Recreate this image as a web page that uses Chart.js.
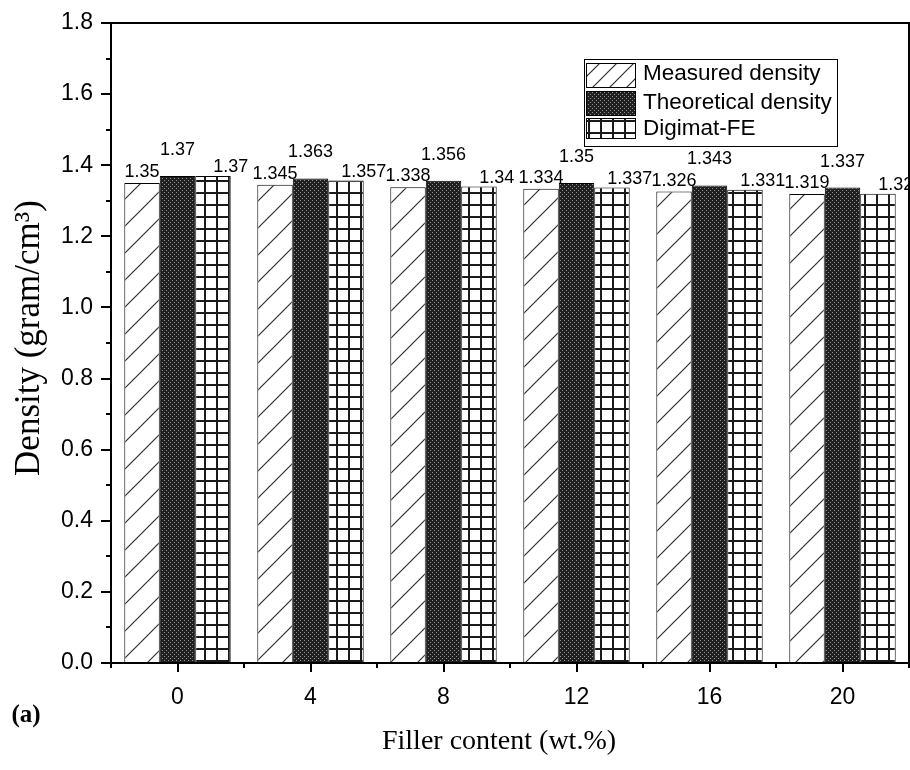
<!DOCTYPE html>
<html>
<head>
<meta charset="utf-8">
<script src="https://cdn.jsdelivr.net/npm/chart.js@4.4.0/dist/chart.umd.min.js"></script>
<style>
  html, body { margin: 0; padding: 0; background: #fff; }
  #wrap { width: 910px; height: 770px; }
</style>
</head>
<body>
<div id="wrap"><canvas id="densityChart" width="910" height="770"></canvas></div>
<script>
// filler loadings (wt.%) and densities (g/cm3)
const fillerContent = ['0', '4', '8', '12', '16', '20'];
const measuredDensity = [1.35, 1.345, 1.338, 1.334, 1.326, 1.319];
const theoreticalDensity = [1.37, 1.363, 1.356, 1.35, 1.343, 1.337];
const digimatDensity = [1.37, 1.357, 1.34, 1.337, 1.331, 1.32];
const seriesNames = ['Measured density', 'Theoretical density', 'Digimat-FE'];

const yMin = 0, yMax = 1.8, yStep = 0.2;

const SANS = '"Liberation Sans", Arial, sans-serif';
const SERIF = '"Liberation Serif", "Times New Roman", serif';

/////////////////////////////// fill patterns //////////////////////////////////
const makePattern = (size, draw) => {
    const c = document.createElement('canvas');
    c.width = size; c.height = size;
    const g = c.getContext('2d');
    g.fillStyle = '#fff';
    g.fillRect(0, 0, size, size);
    draw(g, size);
    return document.createElement('canvas').getContext('2d').createPattern(c, 'repeat');
};

const hatchPattern = (step) => makePattern(step, (g, s) => {
    g.strokeStyle = '#2e2e2e';
    g.lineWidth = 1.2;
    g.beginPath();
    g.moveTo(-2, s + 2); g.lineTo(s + 2, -2);
    g.moveTo(-2, 2); g.lineTo(2, -2);
    g.moveTo(s - 2, s + 2); g.lineTo(s + 2, s - 2);
    g.stroke();
});

const dotPattern = makePattern(4, (g) => {
    g.fillStyle = '#202020';
    g.fillRect(0, 0, 4, 4);
    g.fillStyle = '#909090';
    g.fillRect(0, 0, 1, 1);
    g.fillRect(2, 2, 1, 1);
});

const gridPattern = makePattern(12, (g) => {
    g.fillStyle = '#1a1a1a';
    g.fillRect(0, 0, 12, 2);
    g.fillRect(0, 0, 2, 12);
});

const barHatch = hatchPattern(27);
const legendHatch = hatchPattern(17);

/////////////////////////////// extras plugin //////////////////////////////////
const densityExtras = {
    id: 'densityExtras',
    afterDatasetsDraw(chart) {
        const ctx = chart.ctx;
        ctx.save();
        ctx.fillStyle = '#000';
        ctx.font = '18px ' + SANS;
        ctx.textAlign = 'center';
        ctx.textBaseline = 'alphabetic';
        chart.data.datasets.forEach((ds, di) => {
            chart.getDatasetMeta(di).data.forEach((bar, i) => {
                const txt = String(ds.data[i]);
                if (di === 0) ctx.fillText(txt, bar.x, bar.y - 6);
                else if (di === 1) ctx.fillText(txt, bar.x, bar.y - 21);
                else ctx.fillText(txt, bar.x + bar.width / 2, bar.y - 4);
            });
        });
        ctx.restore();
    },
    afterDraw(chart) {
        const { ctx, chartArea: a, scales: { x, y } } = chart;
        ctx.save();
        ctx.strokeStyle = '#000';
        ctx.lineWidth = 2;

        // top and right frame
        ctx.beginPath();
        ctx.moveTo(a.left, a.top);
        ctx.lineTo(a.right, a.top);
        ctx.lineTo(a.right, a.bottom);
        ctx.stroke();

        // minor ticks
        ctx.beginPath();
        const nMinor = Math.round((yMax - yMin) / yStep);
        for (let k = 0; k < nMinor; k++) {
            const py = Math.round(y.getPixelForValue(yMin + (k + 0.5) * yStep));
            ctx.moveTo(a.left - 5, py);
            ctx.lineTo(a.left, py);
        }
        for (let i = 0; i <= fillerContent.length; i++) {
            const px = Math.round(x.getPixelForValue(i - 0.5));
            ctx.moveTo(px, a.bottom);
            ctx.lineTo(px, a.bottom + 5);
        }
        ctx.stroke();

        // legend
        const lx = 584, ly = 59, lw = 253, lh = 87;
        ctx.lineWidth = 1;
        ctx.strokeStyle = '#000';
        ctx.strokeRect(lx + 0.5, ly + 0.5, lw, lh);
        const swatches = [
            { fill: legendHatch, y: 63, h: 24, ty: 74 },
            { fill: dotPattern, y: 91, h: 24, ty: 103 },
            { fill: gridPattern, y: 118, h: 20, ty: 129 }
        ];
        ctx.font = '22.5px ' + SANS;
        ctx.textAlign = 'left';
        ctx.textBaseline = 'middle';
        swatches.forEach((s, i) => {
            ctx.fillStyle = s.fill;
            ctx.fillRect(586, s.y, 49, s.h);
            ctx.strokeRect(586.5, s.y + 0.5, 49, s.h);
            ctx.fillStyle = '#000';
            ctx.fillText(seriesNames[i], 643, s.ty);
        });

        // axis titles
        ctx.fillStyle = '#000';
        ctx.textAlign = 'center';
        ctx.textBaseline = 'middle';
        ctx.font = '28px ' + SERIF;
        ctx.fillText('Filler content (wt.%)', 499, 742);
        ctx.save();
        ctx.translate(30, 338);
        ctx.rotate(-Math.PI / 2);
        ctx.font = '35px ' + SERIF;
        ctx.fillText('Density (gram/cm\u00B3)', 0, 0);
        ctx.restore();
        ctx.font = 'bold 25px ' + SERIF;
        ctx.fillText('(a)', 26, 716);
        ctx.restore();
    }
};

/////////////////////////////// BarChart //////////////////////////////////
const ctx = document.getElementById('densityChart').getContext('2d');

new Chart(ctx, {
    type: 'bar',
    data: {
        labels: fillerContent,
        datasets: [
            { label: seriesNames[0], data: measuredDensity, backgroundColor: barHatch },
            { label: seriesNames[1], data: theoreticalDensity, backgroundColor: dotPattern },
            { label: seriesNames[2], data: digimatDensity, backgroundColor: gridPattern }
        ].map(d => ({ ...d, borderColor: '#000', borderWidth: 1, categoryPercentage: 0.8, barPercentage: 1.0 }))
    },
    options: {
        responsive: false,
        animation: false,
        layout: { padding: { top: 23, right: 1, left: 0, bottom: 0 } },
        scales: {
            x: {
                offset: true,
                grid: { drawOnChartArea: false, drawTicks: true, tickLength: 9, color: '#000', lineWidth: 2, offset: false },
                border: { display: true, color: '#000', width: 2 },
                ticks: { color: '#000', font: { family: SANS, size: 23 }, padding: 12, maxRotation: 0 },
                afterFit: (s) => { s.height = 107; }
            },
            y: {
                min: yMin,
                max: yMax,
                grid: { drawOnChartArea: false, drawTicks: true, tickLength: 10, color: '#000', lineWidth: 2 },
                border: { display: true, color: '#000', width: 2 },
                ticks: {
                    stepSize: yStep,
                    color: '#000',
                    font: { family: SANS, size: 23 },
                    padding: 8,
                    callback: (v) => Number(v).toFixed(1)
                },
                afterFit: (s) => { s.width = 111; }
            }
        },
        plugins: {
            legend: { display: false },
            tooltip: { enabled: false }
        }
    },
    plugins: [densityExtras]
});
</script>
</body>
</html>
